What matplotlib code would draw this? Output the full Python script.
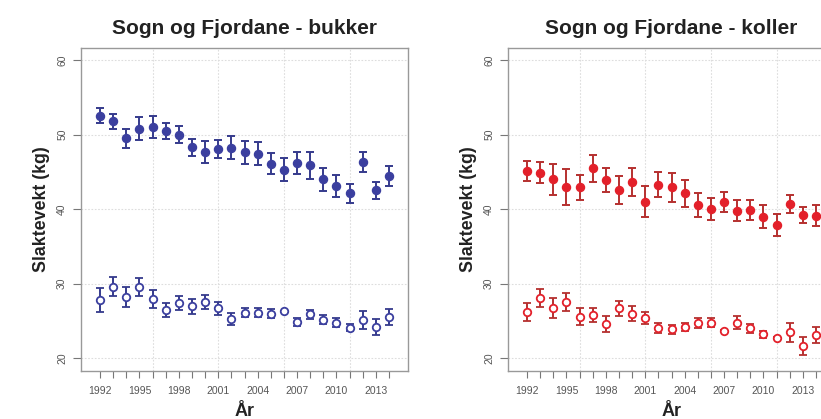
import matplotlib
matplotlib.use("Agg")
import matplotlib.pyplot as plt
import numpy as np

plt.rcParams['font.family'] = ['Liberation Sans', 'DejaVu Sans']

years = list(range(1992, 2015))

# Sogn og Fjordane - bukker (filled = upper series, open = lower series)
bukker_upper = [52.5, 51.8, 49.5, 50.8, 51.0, 50.45, 50.0, 48.3, 47.7, 48.0, 48.25, 47.6,
                47.45, 46.1, 45.3, 46.2, 45.9, 44.0, 43.1, 42.1, 46.3, 42.5, 44.4]
bukker_upper_err = [1.0, 1.0, 1.3, 1.55, 1.45, 1.05, 1.2, 1.15, 1.45, 1.2, 1.5, 1.5,
                    1.5, 1.45, 1.5, 1.5, 1.8, 1.55, 1.45, 1.3, 1.3, 1.15, 1.35]
bukker_lower = [27.8, 29.6, 28.2, 29.6, 28.0, 26.5, 27.4, 27.0, 27.6, 26.7, 25.3, 26.1,
                26.1, 26.0, 26.3, 24.9, 25.9, 25.2, 24.8, 24.1, 25.1, 24.2, 25.5]
bukker_lower_err = [1.6, 1.3, 1.3, 1.2, 1.2, 0.9, 0.95, 1.0, 0.95, 0.85, 0.8, 0.6,
                    0.6, 0.65, 0.1, 0.55, 0.6, 0.6, 0.55, 0.5, 1.2, 1.05, 1.05]

# Sogn og Fjordane - koller
koller_upper = [45.1, 44.9, 44.0, 43.0, 42.9, 45.5, 43.9, 42.6, 43.6, 41.0, 43.3, 42.9,
                42.1, 40.5, 40.0, 40.9, 39.8, 39.9, 39.0, 37.85, 40.7, 39.2, 39.1]
koller_upper_err = [1.3, 1.45, 2.1, 2.4, 1.7, 1.8, 1.55, 1.9, 1.85, 2.1, 1.7, 1.9,
                    1.8, 1.6, 1.5, 1.35, 1.45, 1.35, 1.5, 1.45, 1.25, 1.05, 1.4]
koller_lower = [26.2, 28.1, 26.7, 27.55, 25.6, 25.8, 24.6, 26.7, 26.0, 25.4, 24.1, 23.9,
                24.2, 24.7, 24.8, 23.7, 24.8, 24.0, 23.2, 22.7, 23.5, 21.7, 23.1]
koller_lower_err = [1.2, 1.25, 1.35, 1.15, 1.1, 0.9, 1.05, 1.0, 1.0, 0.8, 0.65, 0.6,
                    0.5, 0.7, 0.6, 0.1, 0.85, 0.6, 0.45, 0.1, 1.25, 1.2, 1.05]

tick_years = list(range(1992, 2015, 3))
grid_years = [1996, 2001, 2006, 2011]
y_ticks = [20, 30, 40, 50, 60]

W, H = 821, 419
fig = plt.figure(figsize=(W / 100, H / 100), dpi=100)

def px_axes(x0, y0, x1, y1):
    return fig.add_axes([x0 / W, 1 - y1 / H, (x1 - x0) / W, (y1 - y0) / H])

panels = [
    (px_axes(81, 48, 408, 371), "Sogn og Fjordane - bukker", "#3b3f9f", "#353a8c",
     bukker_upper, bukker_upper_err, bukker_lower, bukker_lower_err),
    (px_axes(508, 48, 835, 371), "Sogn og Fjordane - koller", "#e3202a", "#b5302f",
     koller_upper, koller_upper_err, koller_lower, koller_lower_err),
]

for ax, title, col, ecol, up, uperr, lo, loerr in panels:
    ax.set_xlim(1990.55, 2015.45)
    ax.set_ylim(18.3, 61.6)
    for g in grid_years:
        ax.axvline(g, color="#dddddd", lw=0.8, ls=(0, (1.5, 1.5)), zorder=0)
    for g in y_ticks:
        ax.axhline(g, color="#dddddd", lw=0.8, ls=(0, (1.5, 1.5)), zorder=0)
    ax.errorbar(years, up, yerr=uperr, fmt='o', color=col, ecolor=ecol,
                elinewidth=1.4, capsize=2.6, capthick=1.4, markersize=5.8, zorder=3)
    ax.errorbar(years, lo, yerr=loerr, fmt='o', color=col, ecolor=ecol,
                markerfacecolor='white', markeredgecolor=col, markeredgewidth=1.3,
                elinewidth=1.4, capsize=2.6, capthick=1.4, markersize=5.4, zorder=3)
    ax.set_xticks(years, minor=True)
    ax.set_xticks(tick_years)
    ax.set_xticklabels([str(t) for t in tick_years], fontsize=7.5, color="#555555")
    ax.set_yticks(y_ticks)
    ax.set_yticklabels([str(t) for t in y_ticks], fontsize=7.5, color="#555555",
                       rotation=90, va='center')
    ax.tick_params(axis='x', which='both', direction='out', length=5, width=0.8,
                   color="#777777", pad=6)
    ax.tick_params(axis='y', direction='out', length=6, width=0.8, color="#777777", pad=4)
    for s in ax.spines.values():
        s.set_color("#999999")
        s.set_linewidth(1.0)
    ax.set_title(title, fontsize=15, fontweight='bold', color="#222222", pad=10)
    ax.set_xlabel("År", fontsize=13, fontweight='bold', color="#222222", labelpad=5)
    ax.set_ylabel("Slaktevekt (kg)", fontsize=12.8, fontweight='bold', color="#222222",
                  labelpad=5)

fig.savefig("out.png", dpi=100)
